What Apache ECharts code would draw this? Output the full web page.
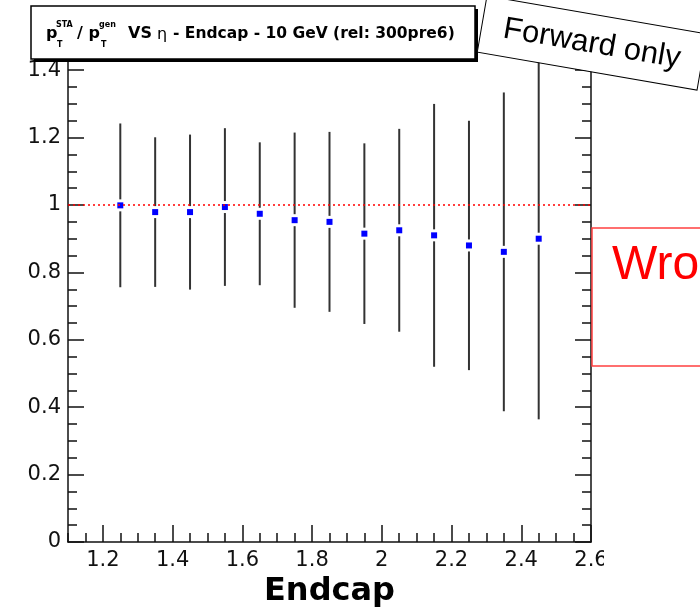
<!DOCTYPE html>
<html>
<head>
<meta charset="utf-8">
<script src="https://cdn.jsdelivr.net/npm/echarts@6/dist/echarts.min.js"></script>
<style>
  html, body { margin: 0; padding: 0; background: #fff; }
  #chart { width: 700px; height: 607px; }
</style>
</head>
<body>
<div id="chart"></div>
<script>
// Centres des bins en eta (endcap)
const etaBins = [1.25, 1.35, 1.45, 1.55, 1.65, 1.75, 1.85, 1.95, 2.05, 2.15, 2.25, 2.35, 2.45];
// pT STA / pT gen moyen par bin
const ptRatio = [0.999, 0.979, 0.979, 0.994, 0.974, 0.955, 0.950, 0.915, 0.925, 0.910, 0.880, 0.861, 0.900];
// Erreur symétrique sur le rapport
const ptRatioErr = [0.243, 0.222, 0.230, 0.234, 0.212, 0.260, 0.267, 0.268, 0.301, 0.390, 0.370, 0.473, 0.536];
// Ligne de référence
const refValue = 1;

const axisFont = 'DejaVu Sans';
const inkColor = '#111';

// Barres d'erreur façon ROOT : interrompues autour du marqueur
function renderErrorBar(params, api) {
    const x = api.value(0);
    const y = api.value(1);
    const err = api.value(2);
    const top = api.coord([x, y + err]);
    const mid = api.coord([x, y]);
    const bot = api.coord([x, y - err]);
    const gap = 6;
    const style = { stroke: '#333', lineWidth: 2 };
    return {
        type: 'group',
        children: [
            { type: 'line', shape: { x1: top[0], y1: top[1], x2: mid[0], y2: mid[1] - gap }, style: style },
            { type: 'line', shape: { x1: mid[0], y1: mid[1] + gap, x2: bot[0], y2: bot[1] }, style: style }
        ]
    };
}

// Axe "fantôme" qui ne sert qu'aux petites graduations
function tickAxis(extra) {
    return Object.assign({
        type: 'value',
        axisLine: { show: false },
        axisTick: { show: true, inside: true, length: 9, lineStyle: { color: inkColor, width: 1.5 } },
        axisLabel: { show: false },
        splitLine: { show: false }
    }, extra);
}

function titleText(x, y, text, size, bold) {
    return {
        type: 'text', x: x, y: y, z: 102,
        style: { text: text, font: (bold ? 'bold ' : '') + size + 'px "DejaVu Sans"', fill: '#000', verticalAlign: 'middle' }
    };
}

const chart = echarts.init(document.getElementById('chart'));

chart.setOption({
    animation: false,
    backgroundColor: '#fff',
    grid: { left: 68, right: 109, top: 50, bottom: 65, containLabel: false, outerBoundsMode: 'none' },
    xAxis: [
        {
            type: 'value',
            position: 'bottom',
            min: 1.1,
            max: 2.6,
            splitNumber: 7,
            name: 'Endcap',
            nameLocation: 'middle',
            nameGap: 31,
            nameTextStyle: { fontFamily: axisFont, fontWeight: 'bold', fontSize: 32, color: '#000' },
            axisLine: { show: true, onZero: false, lineStyle: { color: inkColor, width: 1.5 } },
            axisTick: { show: true, inside: true, length: 17, lineStyle: { color: inkColor, width: 1.5 } },
            axisLabel: { showMinLabel: false, margin: 8, fontFamily: axisFont, fontSize: 21, color: inkColor },
            splitLine: { show: false }
        },
        tickAxis({ position: 'bottom', min: 1.1, max: 2.6, interval: 0.05 }),
        {
            type: 'value',
            position: 'top',
            min: 1.1,
            max: 2.6,
            axisLine: { show: true, onZero: false, lineStyle: { color: inkColor, width: 1.5 } },
            axisTick: { show: false },
            axisLabel: { show: false },
            splitLine: { show: false }
        }
    ],
    yAxis: [
        {
            type: 'value',
            position: 'left',
            min: 0,
            max: 1.46,
            interval: 0.2,
            axisLine: { show: true, onZero: false, lineStyle: { color: inkColor, width: 1.5 } },
            axisTick: { show: true, inside: true, length: 16, lineStyle: { color: inkColor, width: 1.5 } },
            axisLabel: { showMaxLabel: false, margin: 7, fontFamily: axisFont, fontSize: 21, color: inkColor },
            splitLine: { show: false }
        },
        tickAxis({ position: 'left', min: 0, max: 1.46, interval: 0.05 }),
        {
            type: 'value',
            position: 'right',
            min: 0,
            max: 1.46,
            interval: 0.2,
            axisLine: { show: true, onZero: false, lineStyle: { color: inkColor, width: 1.5 } },
            axisTick: { show: true, inside: true, length: 16, lineStyle: { color: inkColor, width: 1.5 } },
            axisLabel: { show: false },
            splitLine: { show: false }
        },
        tickAxis({ position: 'right', min: 0, max: 1.46, interval: 0.05 })
    ],
    series: [
        {
            name: 'erreurs',
            type: 'custom',
            xAxisIndex: 0,
            yAxisIndex: 0,
            renderItem: renderErrorBar,
            data: etaBins.map((x, i) => [x, ptRatio[i], ptRatioErr[i]]),
            z: 2
        },
        {
            name: 'rapport',
            type: 'scatter',
            xAxisIndex: 0,
            yAxisIndex: 0,
            symbol: 'rect',
            symbolSize: 6,
            itemStyle: { color: '#0000ff', opacity: 1 },
            data: etaBins.map((x, i) => [x, ptRatio[i]]),
            markLine: {
                silent: true,
                symbol: 'none',
                label: { show: false },
                lineStyle: { color: '#ff0000', type: [2, 3], width: 1.5, opacity: 1 },
                data: [{ yAxis: refValue }]
            },
            z: 3
        }
    ],
    graphic: [
        // "2.6" coupé par le bord de l'image d'origine
        { type: 'rect', z: 50, shape: { x: 604, y: 370, width: 100, height: 240 }, style: { fill: '#fff' } },
        // Boîte de titre avec ombre
        { type: 'rect', z: 100, shape: { x: 34, y: 9, width: 444, height: 53 }, style: { fill: '#000' } },
        { type: 'rect', z: 101, shape: { x: 31, y: 6, width: 444, height: 53 }, style: { fill: '#fff', stroke: '#000', lineWidth: 1.5 } },
        titleText(46, 34, 'p', 16, true),
        titleText(56, 25, 'STA', 8, true),
        titleText(57, 45, 'T', 8, true),
        titleText(77, 34, '/ p', 16, true),
        titleText(99, 25, 'gen', 8, true),
        titleText(101, 45, 'T', 8, true),
        titleText(128, 34, 'VS', 16, true),
        titleText(157, 35, 'η', 16, false),
        titleText(173, 34, '- Endcap - 10 GeV (rel: 300pre6)', 15.5, true),
        // Étiquette "Forward only" inclinée
        {
            type: 'group',
            x: 592,
            y: 43,
            rotation: -9.8 * Math.PI / 180,
            children: [
                { type: 'rect', z: 110, shape: { x: -111.5, y: -28.5, width: 223, height: 57 }, style: { fill: '#fff', stroke: '#000', lineWidth: 1 } },
                { type: 'text', z: 111, x: 0, y: 1, style: { text: 'Forward only', font: '31px "Liberation Sans"', fill: '#000', align: 'center', verticalAlign: 'middle' } }
            ]
        },
        // Encadré rouge "Wro..."
        { type: 'rect', z: 110, shape: { x: 592, y: 228, width: 130, height: 138 }, style: { fill: '#fff', stroke: '#ff4040', lineWidth: 1.5 } },
        { type: 'text', z: 111, x: 612, y: 266, style: { text: 'Wro', font: '48px "Liberation Sans"', fill: '#ff0000', verticalAlign: 'middle' } }
    ]
});
</script>
</body>
</html>
